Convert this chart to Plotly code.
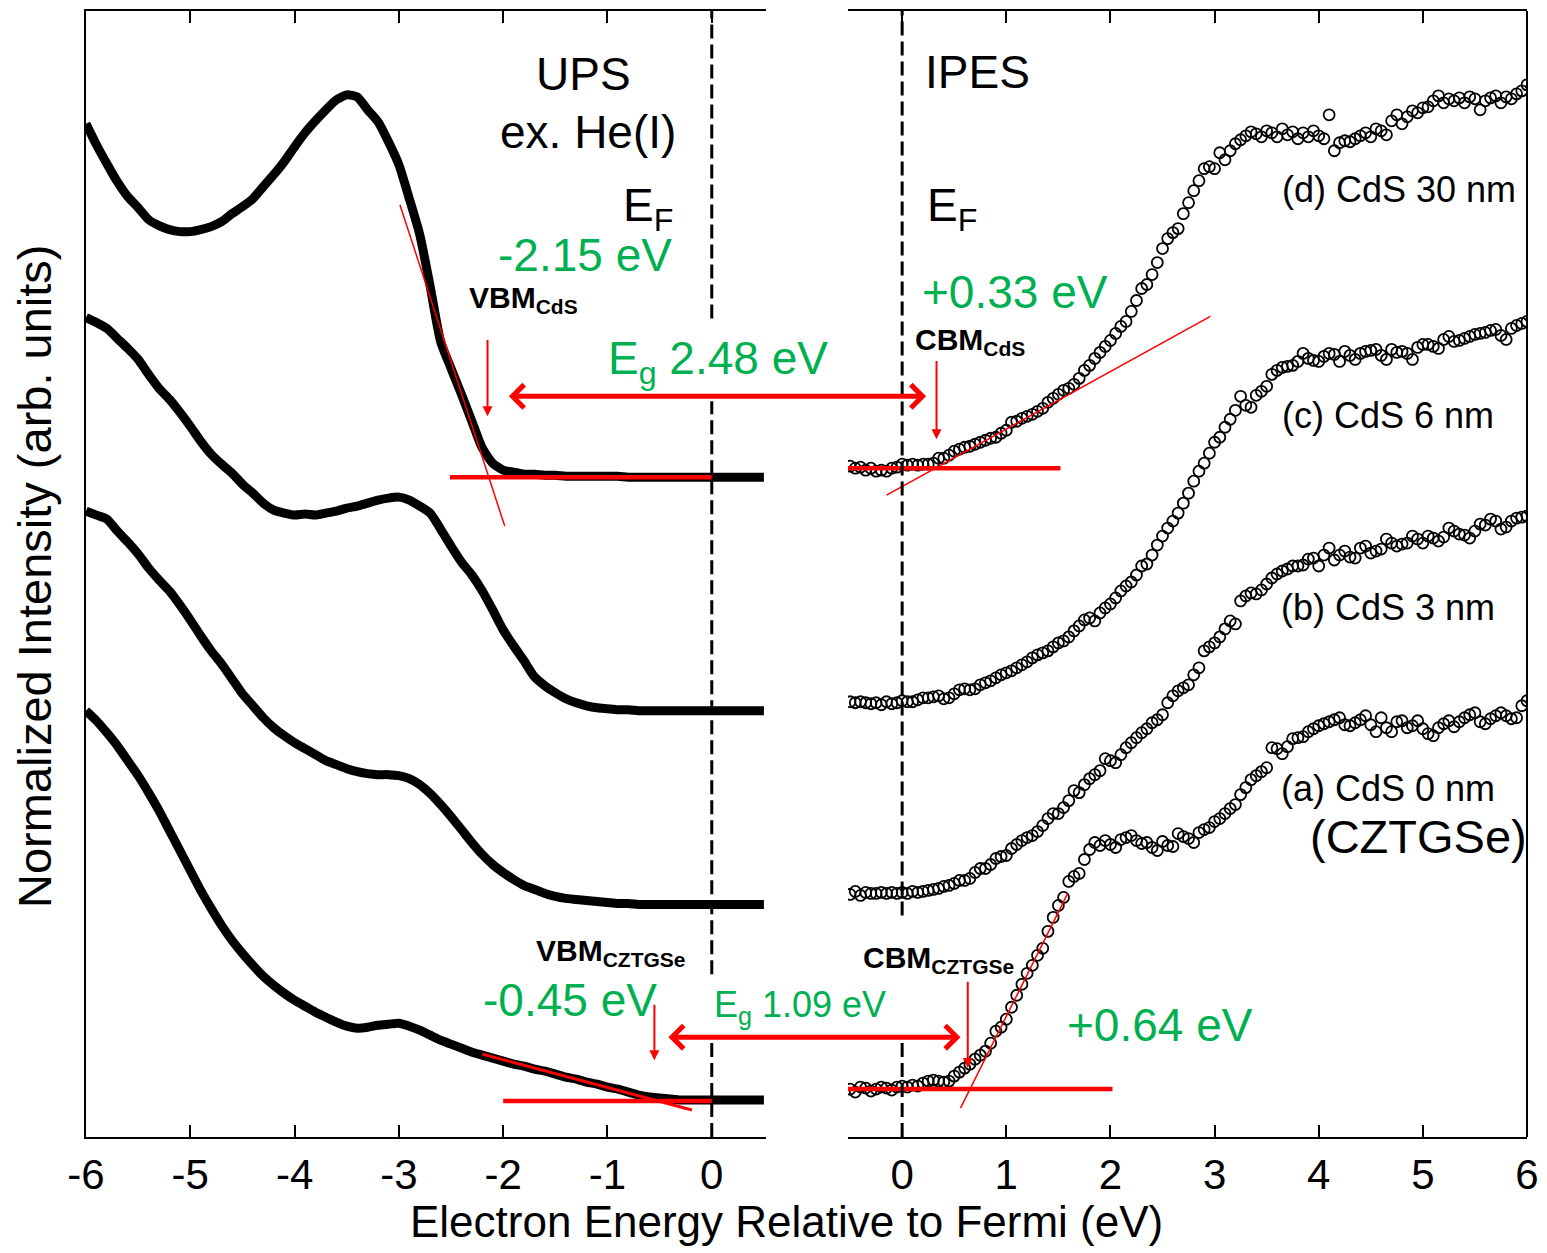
import numpy as np
import plotly.graph_objects as go

# ---------------- data ----------------
UPS_ENERGY = np.round(np.linspace(-6.0, 0.5, 66), 2)
IPES_ENERGY = np.round(np.linspace(-0.5, 6.0, 131), 2)

# UPS relative intensities (arb. units above each baseline)
UPS_D = [354, 333, 314, 296, 281, 270, 258, 252, 248, 246,
         246, 248, 251, 256, 264, 271, 279, 291, 303, 316,
         331, 345, 357, 368, 378, 383, 381, 368, 356, 336,
         313, 279, 243, 191, 136, 109, 83, 56, 29, 14,
         7, 5, 3, 3, 2, 2, 1, 1, 1, 1,
         1, 1, 0, 0, 0, 0, 0, 0, 0, 0,
         0, 0, 0, 0, 0, 0]
UPS_C = [394, 389, 383, 373, 363, 352, 337, 323, 312, 299,
         285, 270, 257, 247, 238, 227, 218, 208, 201, 198,
         196, 197, 196, 198, 200, 203, 205, 208, 211, 213,
         214, 211, 205, 198, 182, 165, 149, 136, 120, 101,
         81, 65, 50, 34, 25, 18, 12, 8, 5, 3,
         2, 1, 1, 0, 0, 0, 0, 0, 0, 0,
         0, 0, 0, 0, 0, 0]
UPS_B = [394, 390, 386, 374, 363, 351, 337, 325, 314, 300,
         285, 269, 254, 241, 226, 211, 199, 187, 177, 169,
         162, 156, 150, 144, 140, 136, 133, 131, 130, 130,
         129, 126, 120, 111, 100, 88, 75, 62, 50, 40,
         32, 25, 19, 15, 11, 8, 6, 5, 4, 3,
         2, 1, 1, 0, 0, 0, 0, 0, 0, 0,
         0, 0, 0, 0, 0, 0]
UPS_A = [390, 380, 368, 355, 340, 325, 308, 290, 270, 250,
         230, 210, 192, 175, 160, 147, 135, 124, 115, 107,
         100, 94, 88, 83, 78, 74, 72, 73, 75, 76,
         77, 74, 70, 65, 60, 56, 52, 48, 45, 42,
         39, 36, 34, 31, 29, 26, 23, 21, 18, 16,
         13, 11, 8, 5, 3, 2, 1, 0, 0, 0,
         0, 0, 0, 0, 0, 0]

# IPES relative intensities
IPES_D = [2, 0, 1, -2, 0, -3, -2, -3, 0, 1,
          4, 3, 4, 3, 4, 4, 5, 10, 10, 13,
          17, 19, 21, 22, 24, 26, 28, 30, 31, 35,
          38, 46, 47, 50, 52, 54, 57, 60, 66, 70,
          74, 78, 80, 84, 90, 98, 103, 110, 116, 122,
          128, 135, 142, 147, 157, 168, 180, 184, 194, 206,
          220, 230, 236, 240, 255, 266, 278, 288, 300, 302,
          300, 316, 309, 318, 325, 329, 333, 337, 335, 332,
          338, 336, 332, 340, 334, 337, 330, 336, 332, 338,
          333, 330, 354, 318, 326, 328, 327, 330, 333, 336,
          332, 340, 338, 334, 348, 354, 345, 352, 358, 356,
          361, 362, 368, 373, 366, 370, 368, 371, 366, 372,
          370, 359, 368, 371, 373, 366, 372, 370, 375, 378,
          384]
IPES_C = [1, 0, 1, 0, -1, 0, -2, 1, -1, 0,
          2, 1, 1, 3, 5, 5, 6, 7, 4, 5,
          9, 13, 14, 13, 14, 18, 20, 22, 25, 28,
          30, 32, 35, 38, 41, 45, 48, 50, 52, 56,
          60, 62, 66, 72, 77, 83, 85, 82, 90, 95,
          99, 105, 112, 117, 121, 128, 137, 139, 148, 158,
          167, 175, 182, 190, 200, 210, 222, 232, 240, 250,
          261, 266, 276, 284, 293, 307, 298, 296, 308, 312,
          317, 329, 333, 336, 337, 338, 342, 350, 345, 343,
          342, 347, 350, 349, 342, 352, 348, 344, 350, 352,
          353, 354, 348, 344, 354, 351, 352, 350, 344, 356,
          359, 359, 357, 355, 364, 367, 362, 363, 365, 367,
          369, 370, 371, 373, 374, 368, 364, 375, 378, 380,
          382]
IPES_B = [-2, 1, -3, 0, -1, -1, 0, -1, 0, -1,
          0, -1, 1, 0, 1, 2, 3, 4, 6, 7,
          9, 12, 12, 14, 20, 24, 24, 28, 34, 36,
          37, 44, 48, 52, 55, 57, 61, 67, 74, 79,
          79, 85, 92, 102, 100, 108, 114, 118, 122, 134,
          132, 130, 138, 145, 150, 155, 160, 164, 170, 173,
          178, 190, 197, 202, 205, 208, 218, 225, 242, 246,
          250, 256, 264, 272, 269, 292, 297, 300, 299, 303,
          309, 315, 319, 322, 324, 327, 327, 328, 334, 335,
          327, 338, 345, 333, 338, 342, 336, 335, 345, 347,
          340, 342, 344, 354, 350, 347, 349, 350, 357, 354,
          350, 357, 355, 352, 356, 365, 362, 359, 358, 355,
          362, 369, 368, 374, 372, 364, 366, 372, 375, 376,
          377]
IPES_A = [0, -3, 2, 1, -2, 0, 2, 1, -1, 2,
          3, 2, 4, 3, 6, 8, 9, 8, 7, 8,
          13, 17, 21, 25, 30, 34, 38, 46, 58, 62,
          70, 82, 94, 105, 116, 124, 134, 141, 158, 172,
          184, 192, 208, 213, 216, 230, 240, 247, 244, 249,
          245, 242, 250, 252, 254, 249, 246, 247, 242, 239,
          248, 244, 243, 256, 253, 251, 247, 257, 260, 262,
          268, 271, 276, 281, 285, 295, 302, 310, 314, 318,
          322, 342, 341, 336, 343, 351, 352, 353, 358, 361,
          364, 366, 368, 370, 372, 365, 364, 367, 370, 374,
          365, 358, 372, 362, 358, 368, 369, 362, 364, 369,
          361, 356, 354, 362, 366, 369, 363, 368, 372, 375,
          377, 368, 366, 371, 374, 377, 374, 371, 372, 384,
          389]

# vertical stacking offsets of the spectra
UPS_OFFSETS = [661, 427, 233, 37]      # d, c, b, a
IPES_OFFSETS = [670, 435, 245, 48]     # d, c, b, a

SAMPLE_LABELS = ["(d) CdS 30 nm", "(c) CdS 6 nm", "(b) CdS 3 nm", "(a) CdS 0 nm"]

# linear extrapolation lines (x pairs, y pairs in plot units)
FITS_UPS = [([-2.51, 0.0], [661, 661], 4.5),
            ([-2.99, -1.985], [934, 612], 1.5),
            ([-2.2, -0.19], [83, 27], 3),
            ([-2.0, 0.0], [36, 36], 4.5)]
FITS_IPES = [([-0.52, 1.52], [670, 670], 4.5),
             ([-0.15, 2.96], [643, 822], 1.5),
             ([-0.52, 2.02], [48, 48], 4.5),
             ([0.56, 1.59], [29, 244], 1.5)]

# band-edge values (eV)
VBM_CDS, CBM_CDS = -2.15, 0.33
VBM_CZTGSE, CBM_CZTGSE = -0.55, 0.63

# ---------------- geometry ----------------
OFF = 8                       # page body margin
W, H = 1539, 1245
ML, MR, MT, MB = 78, 20, 1, 116
PW, PH = W - ML - MR, H - MT - MB
D1 = 680 / PW
D2 = 762 / PW
XR1 = [-6.0, 0.52]
XR2 = [-0.52, 6.0]
YR = [0, PH]

GREEN = "#00B050"
RED = "#FF0000"
FONT = "Liberation Sans, Arial, sans-serif"


def paper_x1(v):
    return D1 * (v - XR1[0]) / (XR1[1] - XR1[0])


def paper_x2(v):
    return D2 + (1 - D2) * (v - XR2[0]) / (XR2[1] - XR2[0])


def px2paper(px):
    return (px - OFF - ML) / PW


def py2paper(py):
    return (OFF + MT + PH - py) / PH


fig = go.Figure()

for vals, off in zip([UPS_D, UPS_C, UPS_B, UPS_A], UPS_OFFSETS):
    fig.add_trace(go.Scatter(x=UPS_ENERGY, y=np.array(vals) + off, mode="lines",
                             line=dict(color="black", width=9, shape="spline", smoothing=0.6),
                             xaxis="x", yaxis="y", showlegend=False, hoverinfo="skip"))

for vals, off in zip([IPES_D, IPES_C, IPES_B, IPES_A], IPES_OFFSETS):
    fig.add_trace(go.Scatter(x=IPES_ENERGY, y=np.array(vals) + off, mode="markers",
                             marker=dict(symbol="circle-open", size=11, color="black",
                                         line=dict(width=1.8, color="black")),
                             xaxis="x2", yaxis="y", showlegend=False, hoverinfo="skip"))

for xs, ys, w in FITS_UPS:
    fig.add_trace(go.Scatter(x=xs, y=ys, mode="lines", line=dict(color=RED, width=w),
                             xaxis="x", yaxis="y", showlegend=False, hoverinfo="skip"))
for xs, ys, w in FITS_IPES:
    fig.add_trace(go.Scatter(x=xs, y=ys, mode="lines", line=dict(color=RED, width=w),
                             xaxis="x2", yaxis="y", showlegend=False, hoverinfo="skip"))

shapes = []
# dashed Fermi-level lines (with gaps behind labels)
for xr, segs in (("x", [(820, PH), (163, 737), (0, 97)]), ("x2", [(222, PH), (0, 95)])):
    for y0, y1 in segs:
        shapes.append(dict(type="line", xref=xr, yref="y", x0=0, x1=0, y0=y0, y1=y1,
                           line=dict(color="black", width=3, dash="14px,6px"), layer="above"))
# right frame border
shapes.append(dict(type="line", xref="paper", yref="paper", x0=1, x1=1, y0=0, y1=1,
                   line=dict(color="black", width=2)))

ann = []


def label(text, px, py, size, color="black", bg=None):
    d = dict(text=text, x=px2paper(px), y=py2paper(py), xref="paper", yref="paper",
             xanchor="center", yanchor="middle", showarrow=False,
             font=dict(family=FONT, size=size, color=color))
    if bg:
        d["bgcolor"] = bg
    ann.append(d)


label("UPS", 583, 72, 46)
label("ex. He(I)", 588, 130, 46)
label("E<sub>F</sub>", 648, 207, 46)
label("-2.15 eV", 585, 253, 46, GREEN)
label("<b>VBM<sub>CdS</sub></b>", 523, 298, 30)
label("E<sub>g</sub> 2.48 eV", 718, 360, 46, GREEN)
label("IPES", 977, 70, 46)
label("E<sub>F</sub>", 952, 207, 46)
label("+0.33 eV", 1015, 290, 46, GREEN)
label("<b>CBM<sub>CdS</sub></b>", 970, 340, 30)
for t, py in zip(SAMPLE_LABELS, [188, 414, 607, 788]):
    label(t, 1399 if t.startswith("(d)") else 1388, py, 36)
label("(CZTGSe)", 1418, 836, 47)
label("<b>VBM<sub>CZTGSe</sub></b>", 611, 952, 30)
label("-0.45 eV", 570, 1000, 46, GREEN)
label("E<sub>g</sub> 1.09 eV", 800, 1007, 36, GREEN)
label("<b>CBM<sub>CZTGSe</sub></b>", 938, 959, 30)
label("+0.64 eV", 1160, 1025, 46, GREEN)

# axis titles
label("Electron Energy Relative to Fermi (eV)", 786, 1222, 44)
ann.append(dict(text="Normalized Intensity (arb. units)", x=px2paper(35), y=py2paper(576),
                xref="paper", yref="paper", xanchor="center", yanchor="middle",
                showarrow=False, textangle=-90, font=dict(family=FONT, size=47, color="black")))

# vertical band-edge arrows
for xr, xv, head, tail in (("x", VBM_CDS, 722, 800), ("x2", CBM_CDS, 699, 779),
                           ("x", VBM_CZTGSE, 77, 134), ("x2", CBM_CZTGSE, 69, 157)):
    ann.append(dict(text="", x=xv, y=head, xref=xr, yref="y", ax=xv, ay=tail,
                    axref=xr, ayref="y", showarrow=True, arrowhead=2, arrowsize=1,
                    arrowwidth=2, arrowcolor=RED, standoff=0))

# double arrows for band gaps
for left, right, yv in ((-1.96, 0.23, 742), (-0.43, 0.56, 100)):
    xl, xr_ = paper_x1(left), paper_x2(right)
    ann.append(dict(text="", x=xr_, y=yv, xref="paper", yref="y",
                    ax=-(xr_ - xl) * PW, ay=0, axref="pixel", ayref="pixel",
                    showarrow=True, arrowside="end+start", arrowhead=4, startarrowhead=4,
                    arrowsize=0.9, startarrowsize=0.9, arrowwidth=5, arrowcolor=RED,
                    standoff=0, startstandoff=0))

axis_common = dict(showline=True, linewidth=2, linecolor="black", mirror="ticks",
                   ticks="inside", ticklen=12, tickwidth=2, tickcolor="black",
                   showgrid=False, zeroline=False, ticklabelstandoff=0,
                   tickfont=dict(family=FONT, size=42, color="black"))

fig.update_layout(
    width=W, height=H,
    margin=dict(l=ML, r=MR, t=MT, b=MB),
    paper_bgcolor="white", plot_bgcolor="white",
    showlegend=False,
    xaxis=dict(domain=[0, D1], range=XR1, anchor="y",
               tickvals=[-6, -5, -4, -3, -2, -1, 0],
               ticktext=["-6", "-5", "-4", "-3", "-2", "-1", "0"], **axis_common),
    xaxis2=dict(domain=[D2, 1], range=XR2, anchor="y",
                tickvals=[0, 1, 2, 3, 4, 5, 6],
                ticktext=["0", "1", "2", "3", "4", "5", "6"], **axis_common),
    yaxis=dict(range=YR, anchor="x", showline=True, linewidth=2, linecolor="black",
               ticks="", showticklabels=False, showgrid=False, zeroline=False),
    shapes=shapes,
    annotations=ann,
    font=dict(family=FONT, color="black"),
)

fig.write_html("out.html")
